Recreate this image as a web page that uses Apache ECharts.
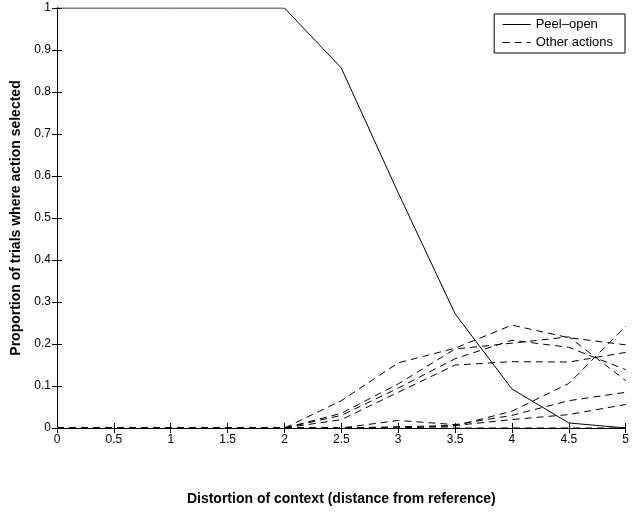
<!DOCTYPE html>
<html>
<head>
<meta charset="utf-8">
<script src="https://cdn.jsdelivr.net/npm/echarts@6/dist/echarts.min.js"></script>
<style>html,body{margin:0;padding:0;background:#fff;}#c{width:632px;height:514px;}</style>
</head>
<body>
<div id="c"></div>
<script>
var xs = [0, 0.5, 1, 1.5, 2, 2.5, 3, 3.5, 4, 4.5, 5];
var peelOpen = [1, 1, 1, 1, 1, 0.857, 0.56, 0.272, 0.093, 0.012, 0];
var otherA = [0, 0, 0, 0, 0, 0.065, 0.155, 0.19, 0.245, 0.215, 0.198];
var otherB = [0, 0, 0, 0, 0, 0.035, 0.105, 0.188, 0.202, 0.217, 0.113];
var otherC = [0, 0, 0, 0, 0, 0.03, 0.095, 0.165, 0.209, 0.192, 0.139];
var otherD = [0, 0, 0, 0, 0, 0.02, 0.085, 0.15, 0.158, 0.157, 0.18];
var otherE = [0, 0, 0, 0, 0, 0, 0, 0.005, 0.04, 0.106, 0.242];
var otherF = [0, 0, 0, 0, 0, 0, 0.018, 0.008, 0.03, 0.065, 0.085];
var otherG = [0, 0, 0, 0, 0, 0, 0.003, 0.006, 0.02, 0.032, 0.056];
var otherH = [0, 0, 0, 0, 0, 0, 0, 0, 0, 0, 0];
var others = [otherA, otherB, otherC, otherD, otherE, otherF, otherG, otherH];
var xTicks = { min: 0, max: 5, interval: 0.5 };
var yTicks = { min: 0, max: 1, interval: 0.1 };

function pairs(vals) { return xs.map(function (x, i) { return [x, vals[i]]; }); }

var font = 'Liberation Sans, Arial, Helvetica, sans-serif';
var series = [];
others.forEach(function (vals) {
  series.push({
    name: 'Other actions', type: 'line', data: pairs(vals), symbol: 'none', color: '#000',
    lineStyle: { color: '#000', width: 1, type: [7, 5] }, z: 2, animation: false
  });
});
series.push({
  name: 'Peel\u2013open', type: 'line', data: pairs(peelOpen), symbol: 'none', color: '#000',
  lineStyle: { color: '#000', width: 1, type: 'solid' }, z: 3, animation: false
});

var baseX = {
  type: 'value', min: xTicks.min, max: xTicks.max, interval: xTicks.interval,
  axisLine: { lineStyle: { color: '#000', width: 1 } },
  axisTick: { inside: true, length: 5, lineStyle: { color: '#000' } },
  splitLine: { show: false }
};
var baseY = {
  type: 'value', min: yTicks.min, max: yTicks.max, interval: yTicks.interval,
  axisLine: { show: true, lineStyle: { color: '#000', width: 1 } },
  axisTick: { show: true, inside: true, length: 5, lineStyle: { color: '#000' } },
  splitLine: { show: false }
};

var chart = echarts.init(document.getElementById('c'), null, { renderer: 'canvas' });
chart.setOption({
  backgroundColor: '#fff',
  animation: false,
  grid: { left: 57, right: 4, top: 8, bottom: 86 },
  legend: {
    data: ['Peel\u2013open', 'Other actions'],
    orient: 'vertical', right: 7, top: 14,
    itemWidth: 28, itemHeight: 9, itemGap: 5,
    padding: [4, 12, 4, 8],
    borderColor: '#000', borderWidth: 1, backgroundColor: '#fff',
    itemStyle: { opacity: 0 },
    lineStyle: { width: 1 },
    textStyle: { fontFamily: font, fontSize: 13, color: '#000' },
    selectedMode: false
  },
  xAxis: [
    Object.assign({}, baseX, {
      position: 'bottom',
      axisLabel: { color: '#000', fontFamily: font, fontSize: 12, margin: 6 },
      name: 'Distortion of context (distance from reference)',
      nameLocation: 'middle', nameGap: 64,
      nameTextStyle: { color: '#000', fontFamily: font, fontSize: 14, fontWeight: 'bold' }
    }),
    Object.assign({}, baseX, { position: 'top', axisLabel: { show: false } })
  ],
  yAxis: [
    Object.assign({}, baseY, {
      position: 'left',
      axisLabel: { color: '#000', fontFamily: font, fontSize: 12, margin: 6 },
      name: 'Proportion of trials where action selected',
      nameLocation: 'middle', nameGap: 34,
      nameTextStyle: { color: '#000', fontFamily: font, fontSize: 14, fontWeight: 'bold' }
    }),
    Object.assign({}, baseY, { position: 'right', axisLabel: { show: false } })
  ],
  series: series
});
</script>
</body>
</html>
